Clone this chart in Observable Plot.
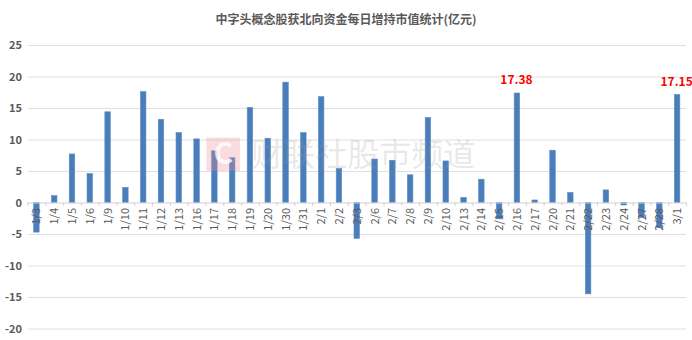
<!DOCTYPE html>
<html>
<head>
<meta charset="utf-8">
<script src="https://cdn.jsdelivr.net/npm/d3@7"></script>
<script src="https://cdn.jsdelivr.net/npm/@observablehq/plot@0.6"></script>
<style>
  html, body { margin: 0; padding: 0; background: #fff; }
  #title { height: 35px; box-sizing: border-box; padding-top: 11px; text-align: center;
    font: bold 12px "Noto Sans CJK SC", sans-serif; line-height: 15px; color: #595959; }
  #chart svg { display: block; overflow: visible; }
</style>
</head>
<body>
<div id="title">中字头概念股获北向资金每日增持市值统计(亿元)</div>
<div id="chart"></div>
<script>
const categories = ["1/3","1/4","1/5","1/6","1/9","1/10","1/11","1/12","1/13","1/16","1/17","1/18","1/19","1/20","1/30","1/31","2/1","2/2","2/3","2/6","2/7","2/8","2/9","2/10","2/13","2/14","2/15","2/16","2/17","2/20","2/21","2/22","2/23","2/24","2/27","2/28","3/1"];
const values = [-4.7,1.1,7.7,4.6,14.4,2.4,17.6,13.2,11.1,10.1,8.2,7.1,15.1,10.2,19.1,11.1,16.8,5.4,-5.7,6.9,6.7,4.4,13.5,6.6,0.8,3.7,-2.6,17.38,0.4,8.3,1.6,-14.5,2.0,-0.4,-2.4,-4.0,17.15];
const labeled = ["2/16","3/1"];
const yTicks = [-20,-15,-10,-5,0,5,10,15,20,25];
const watermark = "财联社股市频道";

const data = categories.map((c, i) => ({cat: c, value: values[i]}));
const labelData = data.filter(d => labeled.includes(d.cat));

const width = 692, height = 305;
const marginLeft = 27.5, marginRight = 6, marginTop = 10, marginBottom = 11.5;
const step = (width - marginLeft - marginRight) / categories.length;
const font = "'Noto Sans CJK SC', 'Liberation Sans', sans-serif";

const chart = Plot.plot({
  width, height, marginLeft, marginRight, marginTop, marginBottom,
  style: {fontFamily: font, fontSize: "11px", color: "#595959", background: "#fff"},
  x: {domain: categories, paddingInner: 0.69, paddingOuter: 0.345, round: false, axis: null},
  y: {domain: [-20, 25], axis: null},
  marks: [
    Plot.ruleY(yTicks.filter(t => t !== 0), {stroke: "#e0e0e0", strokeWidth: 1}),
    Plot.axisY({ticks: yTicks, tickSize: 0, tickPadding: 6, label: null, fill: "#595959", fontSize: 11, fontWeight: 600, tickFormat: d => String(d)}),
    Plot.barY(data, {x: "cat", y: "value", fill: "#4a7ebb", stroke: "#5d8dc6", strokeWidth: 0.6}),
    Plot.ruleY([0], {stroke: "#d0d0d0", strokeWidth: 1}),
    Plot.ruleX(categories, {x: d => d, y1: 0, y2: -0.55, stroke: "#d0d0d0", dx: -step / 2}),
    Plot.ruleX(categories.slice(-1), {x: d => d, y1: 0, y2: -0.55, stroke: "#d0d0d0", dx: step / 2}),
    Plot.text(categories, {x: d => d, y: 0, text: d => d, rotate: -90, textAnchor: "end", lineAnchor: "middle", dy: 5, fill: "#595959", fontSize: 11}),
    Plot.text(labelData, {x: "cat", y: "value", text: d => d.value.toFixed(2), dy: -13, dx: -1, fill: "#ff0000", fontWeight: "bold", fontSize: 12}),
    Plot.dot([watermark], {frameAnchor: "middle", dx: -134, dy: -33, symbol: "square", r: 19, fill: "#f08a96", fillOpacity: 0.3}),
    Plot.text(["C"], {frameAnchor: "middle", dx: -134, dy: -33, text: d => d, fill: "#fff", fillOpacity: 0.8, fontSize: 30, fontWeight: "bold"}),
    Plot.text([watermark], {frameAnchor: "middle", dx: 6, dy: -32, text: d => d, fill: "#9a9a9a", fillOpacity: 0.22, fontSize: 32})
  ]
});
document.getElementById("chart").appendChild(chart);
</script>
</body>
</html>
